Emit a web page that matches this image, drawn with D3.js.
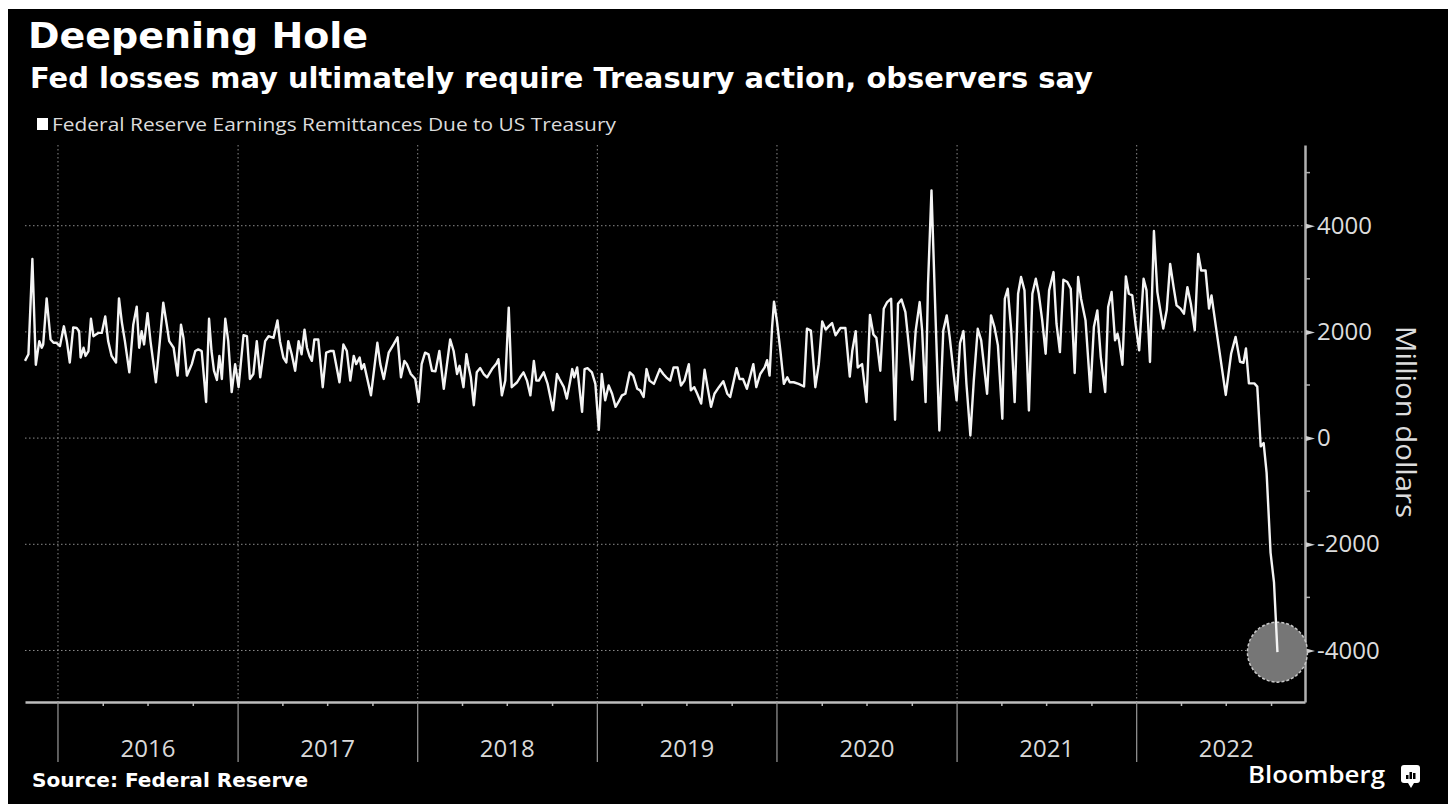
<!DOCTYPE html>
<html>
<head>
<meta charset="utf-8">
<script src="https://cdn.jsdelivr.net/npm/d3@7"></script>
<style>
html, body { margin: 0; padding: 0; background: #ffffff; }
svg { display: block; }
</style>
</head>
<body>
<svg id="chart" width="1448" height="804"></svg>
<script>
// ---------------- DATA ----------------
const titleText = "Deepening Hole";
const subtitleText = "Fed losses may ultimately require Treasury action, observers say";
const legendLabel = "Federal Reserve Earnings Remittances Due to US Treasury";
const yAxisTitle = "Million dollars";
const sourceText = "Source: Federal Reserve";
const brandText = "Bloomberg";

const dayOrigin = "2016-01-01";             // day offsets below count from this date
const xDomain = ["2015-10-26", "2022-12-09"];
const yDomain = [-4970, 5520];
const yTicks = [-4000, -2000, 0, 2000, 4000];
const yMinorTicks = [-3000, -1000, 1000, 3000, 5000];
const yearLabels = ["2016", "2017", "2018", "2019", "2020", "2021", "2022"];

// weekly observations (days since dayOrigin)
const obsDays = [
  -67,-60,-52,-45,-38,-33,-30,-23,-15,-9,-3,4,12,18,24,31,38,43,46,52,56,62,67,72,77,82,89,96,102,109,
  118,124,130,136,145,153,160,165,170,175,182,188,199,207,214,221,226,235,243,250,255,262,272,279,285,292,301,307,312,317,
  323,328,333,340,346,353,360,367,377,384,390,397,404,411,421,428,438,446,451,458,464,468,475,482,489,495,501,506,511,516,521,
  529,538,545,553,560,572,580,587,594,601,606,613,617,622,636,649,655,662,672,682,690,697,704,709,717,726,733,739,746,753,
  760,767,775,784,790,797,804,811,816,824,830,834,839,845,851,858,865,872,882,891,895,902,909,916,922,933,939,946,953,960,
  967,972,977,987,995,1006,1014,1019,1028,1034,1041,1045,1049,1055,1065,1070,1076,1085,1092,1099,
  1105,1112,1119,1126,1133,1139,1146,1153,1162,1169,1177,1183,1190,1196,1202,1211,1223,1230,1236,1244,1251,1259,1266,1273,1282,
  1286,1293,1299,1307,1314,1320,1327,1334,1343,1352,1360,1366,1379,1385,1392,1400,1413,1419,1427,1436,1441,1446,1451,1455,1461,
  1468,1475,1482,1487,1495,1505,1516,1522,1530,1539,1546,1553,1560,1566,1573,1580,1590,1600,1609,1614,1621,1625,1634,1643,1650,
  1657,1663,1671,
  1678,1685,1693,1701,1707,1714,1722,1736,1743,1751,1756,1763,1768,1775,1783,1791,1799,1806,1812,1826,1833,1840,1846,1854,1861,
  1869,1876,1888,1896,1903,1910,1919,1924,1930,1937,1944,1951,1957,1964,1973,1980,1987,1993,2000,2007,2014,2023,2029,2036,2043,
  2051,2058,2066,2073,2079,2088,2098,2105,2112,2119,2128,2134,2141,2148,2153,2156,2163,2170,2176,2183,2190,2197,2206,2212,2219,2227,
  2234,2246,2253,2260,2267,2273,2281,2288,2295,2302,2310,2317,2323,2332,2339,2344,2353,2373,2384,2393,2402,2409,2414,2420,2431,
  2437,2444,2450,2456,2464,2471,2478
];

// remittances due to the Treasury, million dollars
const remittances = [
  1455,1578,3374,1380,1826,1702,1764,2631,1857,1795,1795,1733,2105,1826,1424,2086,2074,2012,1517,1702,1548,1640,2247,1919,1950,1981,1981,2290,1826,1548,
  1424,2631,2167,1826,1238,2136,2476,1702,2012,1764,2352,1826,1052,1826,2550,2136,1826,1702,1176,2136,1888,1176,1393,1640,1671,1640,681,2247,1640,1269,
  1096,1548,1114,2247,1826,867,1393,959,1937,1919,1114,1207,1826,1145,1826,1919,1888,2216,1826,1517,1424,1826,1578,1269,1826,1578,2043,1702,1548,1455,1857,
  1857,959,1609,1640,1640,1052,1764,1640,1083,1548,1393,1517,1300,1393,805,1795,1393,1114,1609,1764,1900,1145,1455,1393,1207,1114,681,1393,1609,1578,
  1269,1257,1640,929,1362,1857,1640,1207,1362,959,1578,1362,1145,619,1238,1318,1207,1145,1300,1405,1486,805,1083,2457,959,1052,1145,1238,1083,805,
  1455,1083,1083,1238,1021,526,1207,1114,959,743,1083,1300,1145,1331,495,1300,1318,1238,1021,155,
  1207,712,990,836,588,681,805,836,1238,1176,929,898,774,1300,1083,1021,1300,1207,1145,1083,1331,1331,990,1083,1393,
  898,959,836,650,1288,959,588,836,959,1071,836,774,1318,1114,1114,929,1393,959,1207,1331,1467,1176,2074,2569,2197,
  1640,1021,1145,1052,1052,1021,972,2061,2024,959,1393,2197,2043,2105,2167,1937,2074,2074,1158,1640,2012,1331,1393,681,2321,
  1950,1888,1269,
  2437,2562,2625,345,2531,2612,2374,1099,2028,2562,2028,678,2908,4666,2342,144,2028,2311,1903,710,1790,2016,1024,50,1086,
  2060,1840,835,2311,2091,1746,364,2625,2813,2028,678,2719,3033,2782,521,2719,3002,2719,2217,1589,2782,3127,2154,1620,2983,
  2939,2813,1225,3033,2625,2217,867,2091,2405,1526,867,2468,2751,1840,1966,1840,1382,3046,2719,2688,2123,1652,3002,2782,1432,3900,
  2750,2063,2406,3281,2844,2500,2438,2344,2844,2531,2031,3469,3156,3156,2438,2688,2094,813,1594,1906,1438,1419,1688,1031,1031,
  969,-156,-94,-656,-2156,-2719,-4031
];

// ---------------- CHART ----------------
const W = 1448, H = 804;
const plot = { left: 25, right: 1305, top: 145, bottom: 702 };
const svg = d3.select("#chart");
const parse = d3.timeParse("%Y-%m-%d");
const origin = parse(dayOrigin);
const data = obsDays.map((d, i) => ({ date: d3.timeDay.offset(origin, d), value: remittances[i] }));

const x = d3.scaleTime().domain(xDomain.map(parse)).range([plot.left, plot.right]);
const y = d3.scaleLinear().domain(yDomain).range([plot.bottom, plot.top]);

// frame
svg.append("rect").attr("width", W).attr("height", H).attr("fill", "#ffffff");
svg.append("rect").attr("x", 8).attr("y", 9).attr("width", W - 8).attr("height", H - 9).attr("fill", "#000000");

// titles
svg.append("text").text(titleText)
  .attr("x", 28).attr("y", 48)
  .attr("font-family", "DejaVu Sans").attr("font-weight", "bold").attr("font-size", 35)
  .attr("fill", "#ffffff").attr("textLength", 340).attr("lengthAdjust", "spacingAndGlyphs");
svg.append("text").text(subtitleText)
  .attr("x", 30).attr("y", 88)
  .attr("font-family", "DejaVu Sans").attr("font-weight", "bold").attr("font-size", 28.5)
  .attr("fill", "#ffffff").attr("textLength", 1063).attr("lengthAdjust", "spacingAndGlyphs");

// legend
svg.append("rect").attr("x", 37).attr("y", 118).attr("width", 11).attr("height", 12).attr("fill", "#ffffff");
svg.append("text").text(legendLabel)
  .attr("x", 52).attr("y", 131)
  .attr("font-family", "Open Sans").attr("font-size", 19)
  .attr("fill", "#dcdcdc").attr("textLength", 564).attr("lengthAdjust", "spacingAndGlyphs");

// gridlines
const yearStarts = d3.timeYear.range(x.domain()[0], x.domain()[1]);
svg.append("g").selectAll("line").data(yTicks).join("line")
  .attr("x1", plot.left).attr("x2", plot.right)
  .attr("y1", d => y(d)).attr("y2", d => y(d))
  .attr("stroke", "#8a8a8a").attr("stroke-width", 1).attr("stroke-dasharray", "1.5,2.5");
svg.append("g").selectAll("line").data(yearStarts).join("line")
  .attr("x1", d => x(d)).attr("x2", d => x(d))
  .attr("y1", plot.top).attr("y2", plot.bottom)
  .attr("stroke", "#8a8a8a").attr("stroke-width", 1).attr("stroke-dasharray", "1.5,2.5");

// bottom axis (quarter ticks)
const quarterTicks = d3.timeMonth.every(3).range(x.domain()[0], x.domain()[1]).filter(d => d.getMonth() !== 0);
const xAxis = d3.axisBottom(x).tickValues(quarterTicks).tickSize(4).tickSizeOuter(0).tickFormat("");
const gx = svg.append("g").attr("transform", `translate(0,${plot.bottom})`).call(xAxis);
gx.select(".domain").attr("stroke", "#bdbdbd").attr("stroke-width", 2.5);
gx.selectAll(".tick line").attr("stroke", "#bdbdbd").attr("stroke-width", 1.5);

// year separators and labels
svg.append("g").selectAll("line").data(yearStarts).join("line")
  .attr("x1", d => x(d)).attr("x2", d => x(d))
  .attr("y1", plot.bottom).attr("y2", 762)
  .attr("stroke", "#9a9a9a").attr("stroke-width", 1.2);
svg.append("g").selectAll("text").data(yearLabels).join("text")
  .text(d => d)
  .attr("x", d => x(new Date(+d, 6, 2)))
  .attr("y", 757)
  .attr("text-anchor", "middle")
  .attr("font-family", "Open Sans").attr("font-size", 24)
  .attr("fill", "#d9d9d9");

// right axis
const yAxis = d3.axisRight(y).tickValues(yTicks).tickSize(0).tickPadding(12).tickSizeOuter(0).tickFormat(d => String(d));
const gy = svg.append("g").attr("transform", `translate(${plot.right},0)`).call(yAxis);
gy.select(".domain").attr("stroke", "#b0b0b0").attr("stroke-width", 2.5);
gy.selectAll(".tick text")
  .attr("font-family", "Open Sans").attr("font-size", 24).attr("fill", "#dcdcdc");
gy.selectAll(".tick").append("path")
  .attr("d", "M1,-2.5L10,0L1,2.5Z").attr("fill", "#d0d0d0");
gy.append("g").selectAll("line").data(yMinorTicks).join("line")
  .attr("x1", 1).attr("x2", 5)
  .attr("y1", d => y(d)).attr("y2", d => y(d))
  .attr("stroke", "#b0b0b0").attr("stroke-width", 1.5);

svg.append("text").text(yAxisTitle)
  .attr("transform", `translate(1396,422) rotate(90)`)
  .attr("text-anchor", "middle")
  .attr("font-family", "Open Sans").attr("font-size", 28)
  .attr("fill", "#dcdcdc").attr("textLength", 192).attr("lengthAdjust", "spacingAndGlyphs");

// highlight circle on latest value
const last = data[data.length - 1];
svg.append("circle")
  .attr("cx", x(last.date)).attr("cy", y(last.value)).attr("r", 30)
  .attr("fill", "#767676").attr("stroke", "#c8c8c8").attr("stroke-width", 1.5)
  .attr("stroke-dasharray", "3,2");

// line
const line = d3.line().x(d => x(d.date)).y(d => y(d.value));
svg.append("path").datum(data)
  .attr("d", line)
  .attr("fill", "none").attr("stroke", "#f4f4f4").attr("stroke-width", 2.4)
  .attr("stroke-linejoin", "round");

// footer
svg.append("text").text(sourceText)
  .attr("x", 32).attr("y", 787)
  .attr("font-family", "DejaVu Sans").attr("font-weight", "bold").attr("font-size", 20)
  .attr("fill", "#ffffff").attr("textLength", 276).attr("lengthAdjust", "spacingAndGlyphs");
svg.append("text").text(brandText)
  .attr("x", 1248).attr("y", 783)
  .attr("font-family", "Open Sans").attr("font-weight", 600).attr("font-size", 24)
  .attr("fill", "#ffffff").attr("textLength", 137).attr("lengthAdjust", "spacingAndGlyphs");
const logo = svg.append("g").attr("transform", "translate(1401,765)");
logo.append("rect").attr("width", 19).attr("height", 18).attr("rx", 3).attr("fill", "#ffffff");
logo.append("path").attr("d", "M7,18L10,23L13,18Z").attr("fill", "#ffffff");
logo.selectAll("rect.bar").data([4, 7, 6]).join("rect").attr("class", "bar")
  .attr("x", (d, i) => 5 + i * 3.5).attr("y", d => 14 - d).attr("width", 2.5).attr("height", d => d)
  .attr("fill", "#000000");
</script>
</body>
</html>
